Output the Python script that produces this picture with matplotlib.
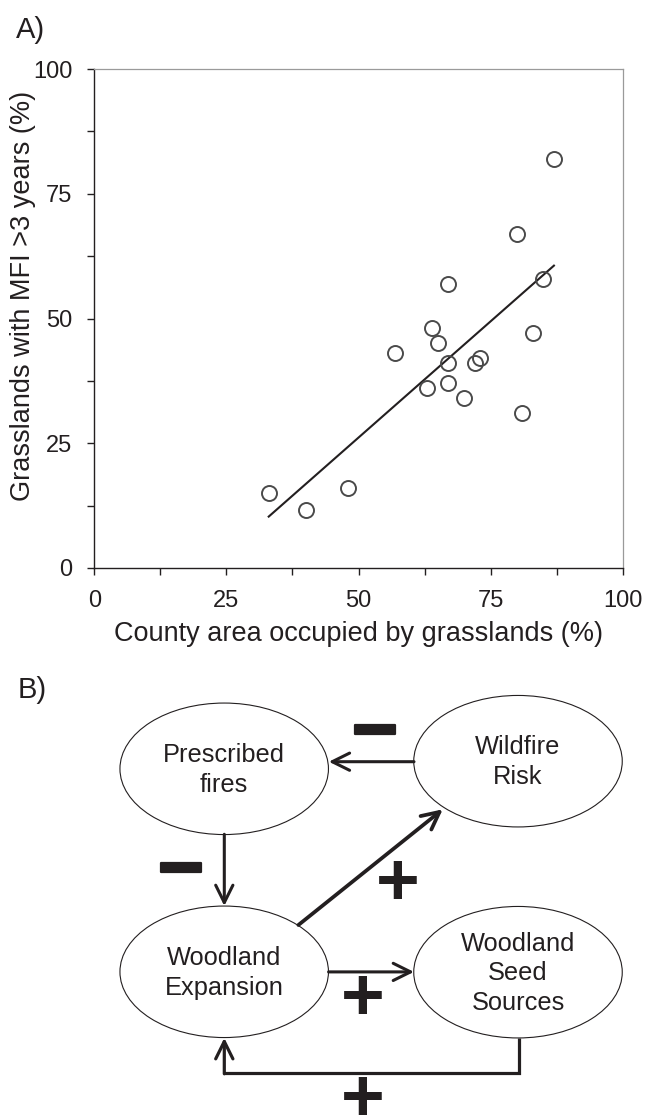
import matplotlib
matplotlib.use("Agg")
import matplotlib.pyplot as plt
import matplotlib.patheffects as pe
from matplotlib.patches import Ellipse
from matplotlib.ticker import MultipleLocator
import numpy as np

plt.rcParams["font.family"] = ["Liberation Sans", "DejaVu Sans"]

INK = "#231f20"

# Panel A data
area_pct = [33, 40, 48, 57, 63, 64, 65, 67, 67, 67, 70, 72, 73, 80, 81, 83, 85, 87]
mfi_pct = [15, 11.7, 16, 43, 36, 48, 45, 57, 41, 37, 34, 41, 42, 67, 31, 47, 58, 82]
major_ticks = [0, 25, 50, 75, 100]

# Panel B nodes and links
node_names = ["Prescribed\nfires", "Wildfire\nRisk", "Woodland\nExpansion", "Woodland\nSeed\nSources"]
link_signs = ["−", "−", "+", "+", "+"]

fig = plt.figure(figsize=(6.46, 11.15), dpi=100)
W, H = 646, 1115

# ---- panel A: scatter ----
ax = fig.add_axes([94.4 / W, 1 - 568 / H, 528.2 / W, 499 / H])
x = np.array(area_pct, dtype=float)
y = np.array(mfi_pct, dtype=float)
ax.plot(x, y, "o", ms=10.8, mfc="none", mec="#4a4a4a", mew=1.4, zorder=3)
slope, icpt = np.polyfit(x, y, 1)
xl = np.array([x.min(), x.max()])
ax.plot(xl, slope * xl + icpt, color=INK, lw=1.5, zorder=2)

ax.set_xlim(0, 100)
ax.set_ylim(0, 100)
ax.xaxis.set_minor_locator(MultipleLocator(12.5))
ax.yaxis.set_minor_locator(MultipleLocator(12.5))
ax.set_xticks(major_ticks)
ax.set_yticks(major_ticks)
ax.tick_params(which="both", direction="out", length=5, width=1.0, color=INK)
ax.tick_params(axis="both", which="major", pad=11, labelsize=17, labelcolor=INK)
for side in ("left", "bottom"):
    ax.spines[side].set_color(INK)
    ax.spines[side].set_linewidth(1.0)
for side in ("top", "right"):
    ax.spines[side].set_color("#9a9a9a")
    ax.spines[side].set_linewidth(0.9)

ax.set_xlabel("County area occupied by grasslands (%)", fontsize=19.5, color=INK, labelpad=6)
fig.text(23.3 / W, 1 - 295.7 / H, "Grasslands with MFI >3 years (%)", rotation=90,
         ha="center", va="center", fontsize=19.5, color=INK)

fig.text(31 / W, 1 - 30 / H, "A)", ha="center", va="center", fontsize=21, color=INK)
fig.text(32 / W, 1 - 690 / H, "B)", ha="center", va="center", fontsize=21, color=INK)

# ---- panel B: causal loop diagram (pixel coordinates) ----
bx = fig.add_axes([0, 0, 1, 475 / H])
bx.set_xlim(0, W)
bx.set_ylim(H, 640)
bx.set_axis_off()

centers = [(224.2, 768.8), (518.0, 761.2), (224.2, 971.8), (518.0, 972.2)]
for (cx, cy), name in zip(centers, node_names):
    bx.add_patch(Ellipse((cx, cy), 208.5, 131.5, facecolor="white", edgecolor=INK, lw=0.8))
    bx.text(cx, cy + 1, name, ha="center", va="center", fontsize=18.3, color=INK,
            linespacing=1.3)

head = "->,head_length=1.25,head_width=0.62"


def arrow(p0, p1, lw=2.2):
    bx.annotate("", xy=p1, xytext=p0,
                arrowprops=dict(arrowstyle=head, lw=lw, color=INK,
                                shrinkA=0, shrinkB=0))


arrow((414.0, 761.7), (328.8, 761.7))
arrow((224.3, 834.3), (224.3, 906.0))
arrow((298.4, 925.0), (442.8, 809.3), lw=2.7)
arrow((328.6, 971.9), (414.0, 971.9))
bx.plot([519.3, 519.3, 224.3], [1037.7, 1072.7, 1072.7], color=INK, lw=2.3,
        solid_joinstyle="miter", solid_capstyle="butt")
arrow((224.3, 1073.8), (224.3, 1037.9), lw=2.3)

# signs: glyph centres sit a little above the line box centre, so nudge down
sign_pos = [(374.7, 730.0), (181.0, 868.5), (397.9, 881.7), (363.0, 996.5), (363.0, 1097.5)]
for (sx, sy), s in zip(sign_pos, link_signs):
    if s == "+":
        bx.text(sx, sy + 4, s, ha="center", va="center", fontsize=54, fontweight="bold",
                color=INK)
    else:
        bx.text(sx, sy + 5, s, ha="center", va="center", fontsize=58, fontweight="bold",
                color=INK, path_effects=[pe.withStroke(linewidth=1.6, foreground=INK)])

fig.savefig("out.png", dpi=100)
